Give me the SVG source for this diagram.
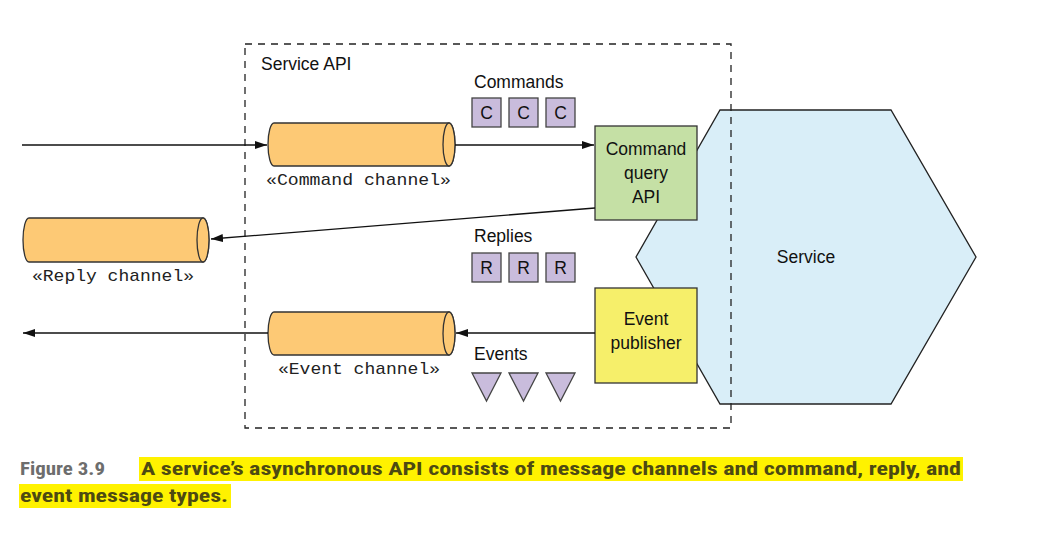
<svg xmlns="http://www.w3.org/2000/svg" width="1038" height="537" viewBox="0 0 1038 537">
<defs>
<marker id="ah" markerWidth="12" markerHeight="8" refX="12" refY="4" orient="auto" markerUnits="userSpaceOnUse">
<path d="M0,0 L12,4 L0,8 Z" fill="#111"/>
</marker>
<style>
.lbl{font-family:"Liberation Sans",Arial,sans-serif;font-size:17.5px;fill:#111}
.mono{font-family:"Liberation Mono","Courier New",monospace;font-size:17px;fill:#222}
.cyl{fill:#fdc975;stroke:#333;stroke-width:1.3}
.msg{fill:#c9bcdc;stroke:#444;stroke-width:1.3}
.conn{stroke:#111;stroke-width:1.3;fill:none;marker-end:url(#ah)}
.cap{font-family:"Liberation Sans Narrow","Roboto Condensed",Arial,sans-serif;font-stretch:condensed;font-weight:bold;font-size:19px}
</style>
</defs>
<rect width="1038" height="537" fill="#fff"/>

<g id="service">
<polygon points="720,110 891,110 976,257 891,404 720,404 636,257" fill="#d9eef8" stroke="#222" stroke-width="1.3"/>
<text class="lbl" x="806" y="263" text-anchor="middle">Service</text>
</g>

<g id="service-api">
<rect x="245" y="44" width="486" height="384" fill="none" stroke="#222" stroke-width="1.3" stroke-dasharray="7,6"/>
<text class="lbl" x="261" y="70">Service API</text>
</g>

<g id="command-query-api">
<rect x="595" y="126" width="102" height="94" fill="#c5e0a5" stroke="#333" stroke-width="1.3"/>
<text class="lbl" x="646" y="155" text-anchor="middle">Command</text>
<text class="lbl" x="646" y="179" text-anchor="middle">query</text>
<text class="lbl" x="646" y="203" text-anchor="middle">API</text>
</g>

<g id="event-publisher">
<rect x="595" y="288" width="102" height="95" fill="#f6ef6a" stroke="#333" stroke-width="1.3"/>
<text class="lbl" x="646" y="325" text-anchor="middle">Event</text>
<text class="lbl" x="646" y="349" text-anchor="middle">publisher</text>
</g>

<g id="command-channel">
<path class="cyl" d="M274,123 L449,123 A6,21.5 0 0 1 449,166 L274,166 A6,21.5 0 0 1 274,123 Z"/>
<ellipse class="cyl" cx="449" cy="144.5" rx="6" ry="21.5"/>
<text class="mono" x="266" y="185" textLength="185" lengthAdjust="spacingAndGlyphs">«Command channel»</text>
</g>

<g id="reply-channel">
<path class="cyl" d="M29,218 L203,218 A6,22 0 0 1 203,262 L29,262 A6,22 0 0 1 29,218 Z"/>
<ellipse class="cyl" cx="203" cy="240" rx="6" ry="22"/>
<text class="mono" x="32" y="281" textLength="162" lengthAdjust="spacingAndGlyphs">«Reply channel»</text>
</g>

<g id="event-channel">
<path class="cyl" d="M274,312 L449,312 A6,21.5 0 0 1 449,355 L274,355 A6,21.5 0 0 1 274,312 Z"/>
<ellipse class="cyl" cx="449" cy="333.5" rx="6" ry="21.5"/>
<text class="mono" x="278" y="374" textLength="162" lengthAdjust="spacingAndGlyphs">«Event channel»</text>
</g>

<g id="commands">
<text class="lbl" x="474" y="88">Commands</text>
<rect class="msg" x="472" y="98" width="29" height="29"/>
<rect class="msg" x="509" y="98" width="29" height="29"/>
<rect class="msg" x="546" y="98" width="29" height="29"/>
<text class="lbl" x="486.5" y="119" text-anchor="middle">C</text>
<text class="lbl" x="523.5" y="119" text-anchor="middle">C</text>
<text class="lbl" x="560.5" y="119" text-anchor="middle">C</text>
</g>

<g id="replies">
<text class="lbl" x="474" y="242">Replies</text>
<rect class="msg" x="472" y="253" width="29" height="29"/>
<rect class="msg" x="509" y="253" width="29" height="29"/>
<rect class="msg" x="546" y="253" width="29" height="29"/>
<text class="lbl" x="486.5" y="274" text-anchor="middle">R</text>
<text class="lbl" x="523.5" y="274" text-anchor="middle">R</text>
<text class="lbl" x="560.5" y="274" text-anchor="middle">R</text>
</g>

<g id="events">
<text class="lbl" x="474" y="360">Events</text>
<polygon class="msg" points="472,373 501,373 486.5,401"/>
<polygon class="msg" points="509,373 538,373 523.5,401"/>
<polygon class="msg" points="546,373 575,373 560.5,401"/>
</g>

<g id="connectors">
<line class="conn" x1="22" y1="145" x2="267" y2="145"/>
<line class="conn" x1="455" y1="145" x2="594" y2="145"/>
<line class="conn" x1="595" y1="208" x2="211" y2="239"/>
<line class="conn" x1="595" y1="333" x2="456" y2="333"/>
<line class="conn" x1="268" y1="333" x2="23" y2="333"/>
</g>

<g id="caption">
<rect x="139" y="457" width="824" height="24" fill="#fff200"/>
<rect x="19" y="484" width="212" height="24" fill="#fff200"/>
<text class="cap" x="20" y="475" fill="#6d6d6d" textLength="85" lengthAdjust="spacingAndGlyphs">Figure 3.9</text>
<text class="cap" x="141" y="475" fill="#4d4a12" textLength="820" lengthAdjust="spacingAndGlyphs">A service’s asynchronous API consists of message channels and command, reply, and</text>
<text class="cap" x="20" y="502" fill="#4d4a12" textLength="208" lengthAdjust="spacingAndGlyphs">event message types.</text>
</g>
</svg>
